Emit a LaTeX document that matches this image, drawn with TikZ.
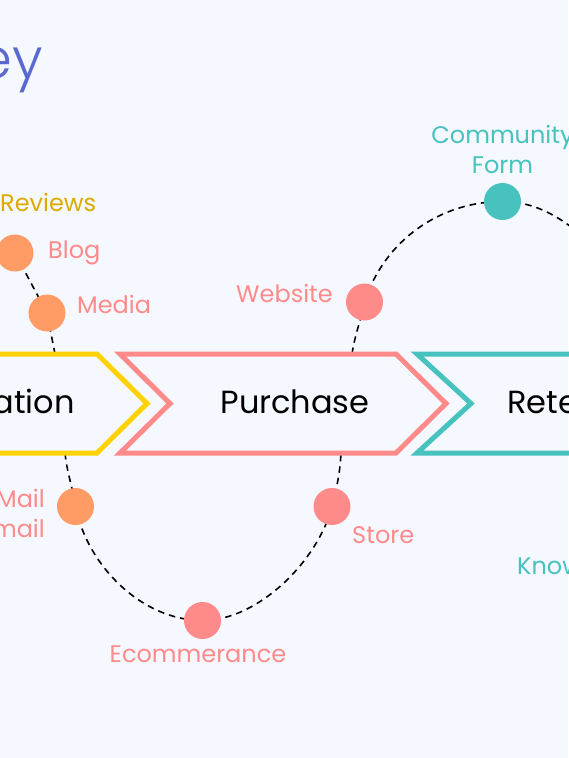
\documentclass[tikz,border=0pt]{standalone}
\usepackage{fontspec}
\setmainfont{Poppins}
\newfontfamily\lightfont{Poppins Light}
\definecolor{bg}{HTML}{F5F8FE}
\definecolor{titleblue}{HTML}{5A68D2}
\definecolor{cyellow}{HTML}{FFD200}
\definecolor{tyellow}{HTML}{DDAA00}
\definecolor{cpink}{HTML}{FF8A8A}
\definecolor{cteal}{HTML}{47C2BF}
\definecolor{corange}{HTML}{FF9C66}
\begin{document}
\begin{tikzpicture}[x=1pt,y=-1pt,
  dotnode/.style={circle, minimum size=37pt, inner sep=0pt, draw=none},
  lbl/.style={inner sep=0pt, font=\fontsize{24}{30}\selectfont},
  stage/.style={inner sep=0pt, font=\fontsize{32}{40}\selectfont, text=black},
  conn/.style={black, line width=1.6pt, dash pattern=on 6.5pt off 5pt},
  chev/.style={line width=5pt, line join=miter, miter limit=10}]
\useasboundingbox[fill=bg] (0,0) rectangle (568,758);

% title fragment
\node[inner sep=0pt, anchor=base east, text=titleblue, font=\lightfont\fontsize{56}{60}\selectfont] (title) at (43,78) {ey};

% attachment coordinates on the chevrons
\coordinate (ytop) at (55,354);
\coordinate (ybot) at (65,453);
\coordinate (ptop) at (352,354);
\coordinate (pbot) at (341,453);
\coordinate (rightend) at (610,262);

% dots (named positions)
\node[dotnode] (blog) at (15,253) {};
\node[dotnode] (media) at (47,313) {};
\node[dotnode] (mail) at (75.5,506.5) {};
\node[dotnode] (ecom) at (202.5,620.5) {};
\node[dotnode] (store) at (332,506.5) {};
\node[dotnode] (website) at (364.5,302) {};
\node[dotnode] (comm) at (502.5,201.5) {};

% connectors
\draw[conn] (blog.center) -- (media.center) -- (ytop);
\draw[conn] (ybot) .. controls +(2,20) and +(-3,-20) .. (mail.center);
\draw[conn] (mail.center) .. controls +(12,60) and +(-60,0) .. (ecom.center);
\draw[conn] (ecom.center) .. controls +(56,0) and +(-14,54) .. (store.center);
\draw[conn] (store.center) .. controls +(5,-20) and +(-1,20) .. (pbot);
\draw[conn] (ptop) .. controls +(3,-20) and +(-4,20) .. (website.center);
\draw[conn] (website.center) .. controls +(20,-62) and +(-62,0) .. (comm.center);
\draw[conn] (comm.center) .. controls +(45,0) and +(-30,-30) .. (rightend);

% chevrons
\draw[chev, cyellow] (-30,354) -- (97,354) -- (147,403.5) -- (97,453) -- (-30,453);
\draw[chev, cpink] (120,354) -- (396,354) -- (446,403.5) -- (396,453) -- (120,453) -- (170,403.5) -- cycle;
\draw[chev, cteal] (620,354) -- (417,354) -- (471,403.5) -- (417,453) -- (620,453);

% dots drawn on top
\fill[corange] (blog) circle[radius=18.5];
\fill[corange] (media) circle[radius=18.5];
\fill[corange] (mail) circle[radius=18.5];
\fill[cpink] (ecom) circle[radius=18.5];
\fill[cpink] (store) circle[radius=18.5];
\fill[cpink] (website) circle[radius=18.5];
\fill[cteal] (comm) circle[radius=18.5];

% stage labels
\node[stage, anchor=base east] (awareness) at (75,413) {ation};
\node[stage, anchor=base] (purchase) at (295,413) {Purchase};
\node[stage, anchor=base west] (retention) at (507,413) {Rete};

% touchpoint labels
\node[lbl, anchor=base west, text=tyellow] (reviews) at (0,211) {Reviews};
\node[lbl, anchor=base west, text=cpink] (lblog) at (48,258) {Blog};
\node[lbl, anchor=base west, text=cpink] (lmedia) at (77,313) {Media};
\node[lbl, anchor=base east, text=cpink] (lwebsite) at (333,302) {Website};
\node[lbl, anchor=base, text=cteal] (lcomm1) at (502.5,143) {Community};
\node[lbl, anchor=base, text=cteal] (lcomm2) at (502.5,173) {Form};
\node[lbl, anchor=base east, text=cpink] (lmail1) at (45,507) {Mail};
\node[lbl, anchor=base east, text=cpink] (lmail2) at (45,537) {mail};
\node[lbl, anchor=base, text=cpink] (lecom) at (198,662) {Ecommerance};
\node[lbl, anchor=base west, text=cpink] (lstore) at (352,543) {Store};
\node[lbl, anchor=base west, text=cteal] (lknow) at (517,574) {Know};
\end{tikzpicture}
\end{document}
